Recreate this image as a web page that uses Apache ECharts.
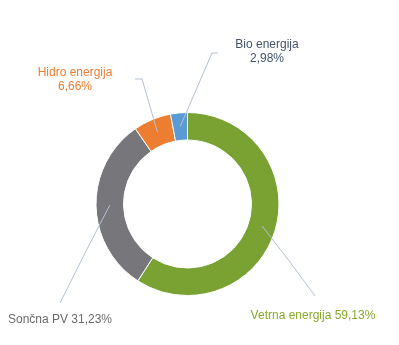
<!DOCTYPE html>
<html>
<head>
<meta charset="utf-8">
<script src="https://cdn.jsdelivr.net/npm/echarts@6/dist/echarts.min.js"></script>
<style>
  html, body { margin: 0; padding: 0; background: #fff; }
  #chart { width: 399px; height: 345px; }
</style>
</head>
<body>
<div id="chart"></div>
<script>
// Energy mix by source (share, %)
const categories = ['Vetrna energija', 'Sončna PV', 'Hidro energija', 'Bio energija'];
const shares = [59.13, 31.23, 6.66, 2.98];
const sliceColors = ['#79A232', '#77777B', '#ED7D31', '#5B9BD5'];
const labelColors = ['#86AA2A', '#6B6B6B', '#ED7D31', '#44546A'];
const twoLineLabel = [false, false, true, true];

// Label placement: text centre and the elbow/end of each leader line
const labelPos = [[313, 316], [60, 320], [75, 80], [267, 52]];
const lineEnds = [
  [[290, 262], [315, 296]],
  [[85, 253], [60, 303]],
  [[142, 79], [135, 79]],
  [[212, 53], [218, 53]]
];

const CX = 187.5, CY = 204, R_IN = 64, R_OUT = 91.5;
const total = shares.reduce((a, b) => a + b, 0);

function fmtPct(v) { return v.toFixed(2).replace('.', ',') + '%'; }

// leader lines start in the middle of the ring at each slice's mid-angle
function anchor(i) {
  let before = 0;
  for (let k = 0; k < i; k++) before += shares[k];
  const frac = (before + shares[i] / 2) / total;
  const ang = frac * 2 * Math.PI; // clockwise from 12 o'clock
  const r = (R_IN + R_OUT) / 2;
  return [CX + r * Math.sin(ang), CY - r * Math.cos(ang)];
}

// leader lines drawn on top of the ring
const leaderLines = categories.map((_, i) => ({
  type: 'polyline',
  z: 100,
  silent: true,
  shape: { points: [anchor(i), lineEnds[i][0], lineEnds[i][1]] },
  style: { stroke: '#B4C0D2', lineWidth: 1, fill: null }
}));

const chart = echarts.init(document.getElementById('chart'), null, { renderer: 'canvas' });
chart.setOption({
  animation: false,
  backgroundColor: '#ffffff',
  graphic: leaderLines,
  series: [{
    type: 'pie',
    center: [CX, CY],
    radius: [R_IN, R_OUT],
    startAngle: 90,
    clockwise: true,
    avoidLabelOverlap: false,
    itemStyle: { borderColor: '#ffffff', borderWidth: 1 },
    emphasis: { disabled: true },
    label: {
      show: true,
      position: 'outside',
      fontFamily: 'Liberation Sans, Arial, sans-serif',
      fontSize: 12,
      lineHeight: 14,
      align: 'center',
      formatter: p => twoLineLabel[p.dataIndex]
        ? p.name + '\n' + fmtPct(p.value)
        : p.name + ' ' + fmtPct(p.value)
    },
    labelLine: { show: false },
    labelLayout: function (params) {
      const i = params.dataIndex;
      return {
        x: labelPos[i][0],
        y: labelPos[i][1],
        align: 'center',
        verticalAlign: 'middle'
      };
    },
    data: categories.map((name, i) => ({
      name: name,
      value: shares[i],
      itemStyle: { color: sliceColors[i] },
      label: { color: labelColors[i] }
    }))
  }]
});
</script>
</body>
</html>
